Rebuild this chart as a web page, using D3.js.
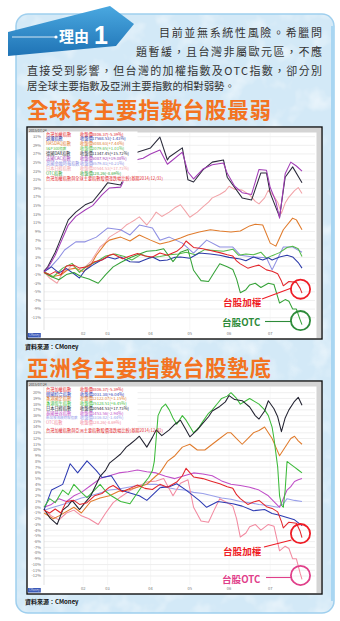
<!DOCTYPE html>
<html>
<head>
<meta charset="utf-8">
<title>台股最弱</title>
<script src="https://cdn.jsdelivr.net/npm/d3@7"></script>
<style>
  body { margin: 0; background: #fff; }
  svg { display: block; font-family: "Noto Sans CJK TC", "Noto Sans", sans-serif; }
  .tick-lbl { font-size: 4px; fill: #777; }
  .leg { font-size: 4.2px; }
</style>
</head>
<body>
<svg id="page" width="340" height="621"></svg>
<script>
// ---- data: [trading day index, % change since 2014/12/31] ----
var taiex = [[0,-0.5],[3,-1],[6,-0.3],[9,-1],[12,1],[16,1.2],[19,0.5],[23,0.8],[27,2],[31,2.4],[35,3.5],[37,3.8],[42,2.7],[46,3.3],[50,3.9],[54,3.3],[58,3.1],[62,4],[66,3.5],[71,4.4],[74,5.5],[76,6.8],[80,5.3],[85,5],[89,4.6],[94,4.1],[98,3.6],[101,3.3],[103,2.2],[105,1.5],[109,0.5],[112,0.9],[115,1.2],[119,0.1],[122,-0.2],[125,-0.8],[127,-2.5],[128,-3.6],[131,-2.6],[135,-2.8],[137,-4.2],[138,-5.3]];
var otc = [[0,-0.5],[4,-1.5],[8,-2.2],[12,-1],[16,-0.5],[20,-1.5],[24,-2],[29,-3],[33,-1],[37,0.8],[41,1.8],[46,2.9],[50,3.6],[55,4.4],[60,4.6],[64,5],[69,2],[73,4.2],[77,4.8],[80,0],[84,-2.4],[88,-2.6],[91,-0.5],[94,1.5],[98,0.8],[101,0.2],[103,-2],[105,-5.2],[108,-4.5],[110,-3.4],[113,-3],[116,-4],[120,-3],[123,-3.3],[126,-7.6],[129,-6.8],[131,-7.2],[133,-9],[135,-9],[137,-11.5],[138,-12.6]];
var nikkei = [[0,-0.3],[3,-1.8],[7,-3],[10,-0.5],[13,0.3],[15,1.2],[19,-0.4],[22,0.8],[25,2],[28,4],[30,5.4],[33,6.5],[35,7.7],[38,8.5],[41,9.3],[44,10.5],[46,11],[49,11.8],[51,12.4],[55,10.5],[58,12.2],[60,13.5],[63,12.5],[67,13.5],[70,14.5],[73,15.2],[76,13.5],[78,12.3],[82,13.5],[85,14.7],[88,15.8],[90,16.8],[94,17.6],[97,18.4],[99,19.5],[102,18.8],[106,18.6],[110,17.5],[113,16],[115,15.4],[118,16.8],[120,18.6],[123,17.2],[125,15.8],[127,13.2],[129,15.6],[131,17],[134,18.5],[136,19.2],[138,17.8]];
var dow = [[0,-0.3],[4,0.8],[8,-0.6],[12,0.4],[16,-0.8],[19,-1.8],[22,0],[26,1.2],[30,2.2],[34,3.1],[38,2.6],[41,3.1],[46,2],[51,1.9],[55,2.6],[58,3.1],[62,2.2],[66,2.4],[70,3],[73,3.1],[78,2.8],[83,4],[89,3.8],[94,3.5],[99,3],[105,2.6],[108,2.2],[112,3.1],[117,2.4],[120,2.9],[122,2.4],[126,3.1],[130,3.5],[133,3.1],[136,1.8],[138,0.5]];
var nasdaq = [[0,-0.4],[4,-1.5],[9,-1.1],[13,0.2],[17,0.5],[21,-0.3],[25,1.2],[28,3.5],[33,6.3],[35,7],[41,7.7],[46,6.8],[51,8.2],[57,7],[62,6.1],[67,6.6],[73,7.5],[77,8.2],[83,8.9],[89,9.4],[94,9.1],[100,8.9],[105,9.1],[110,10.3],[113,10.7],[117,10.5],[121,6.3],[124,5.6],[128,9.4],[133,12.1],[135,11.7],[138,9.4]];
var sp500 = [[0,-0.3],[5,-1.5],[10,0.5],[15,1.6],[19,-0.5],[23,1],[28,2],[33,3.3],[38,3.8],[43,3.2],[47,2.4],[52,3.7],[57,2.9],[62,3.2],[67,3.6],[72,3.8],[76,4.2],[81,3.6],[86,4.8],[91,4.6],[96,4.4],[101,4.9],[104,3.5],[108,3.8],[112,3.6],[116,4.2],[119,2.8],[122,3.4],[126,4.1],[130,5.3],[133,5.6],[136,5],[138,3.2]];
var dax = [[0,-0.2],[2,0.8],[6,4.2],[8,6.3],[13,11.7],[17,13.5],[22,15.2],[26,15.9],[31,18.6],[34,20.3],[41,19.8],[49,27.3],[57,28.4],[62,30.9],[66,25.6],[67,26.3],[74,28.4],[77,21],[80,20.5],[85,23.3],[90,25.1],[96,25.6],[98,21.6],[106,16.8],[111,16.3],[116,22.6],[119,22.6],[121,17.9],[126,12.4],[129,21.6],[133,24],[138,20.3]];
var cac = [[0,-0.3],[2,0.5],[6,3.5],[8,5.5],[13,10.5],[17,12.5],[22,14],[26,15],[31,17.5],[35,19.1],[41,19.3],[45,23],[49,25.6],[53,26],[57,27],[62,27.9],[66,24.6],[68,25.3],[74,27.4],[77,22.8],[80,21.2],[85,23.5],[90,24.5],[96,24.9],[98,22.5],[102,19.5],[106,18],[111,17.6],[115,23.4],[119,23.2],[121,19.2],[124,16],[126,12.1],[129,22.4],[132,25.1],[135,24.2],[138,23]];
var ftse = [[0,-0.4],[3,0.5],[8,2.9],[11,4.7],[17,6.6],[22,6.6],[28,7.7],[34,9.8],[41,9.4],[46,8.2],[51,10.5],[58,9.8],[62,7],[67,7.7],[74,6.3],[80,4],[87,7],[94,5.4],[101,5.4],[105,3.5],[112,3.1],[119,2.9],[122,0.1],[128,5.4],[133,5.4],[138,4.2]];
// Asia
var korea = [[0,-0.5],[4,3],[10,4],[14,7.6],[18,6],[23,8.1],[28,6.4],[31,5.2],[36,5.5],[41,3],[46,2.5],[51,2],[55,1.2],[62,3.4],[67,3.6],[71,4.1],[76,3],[83,1.2],[87,0],[93,1],[101,0.6],[106,0.2],[112,-0.6],[118,-0.4],[122,-1.1],[126,-1.4],[130,-1.8],[134,-2.2],[138,-3.2]];
var hshares = [[0,-1],[5,-2],[8,-1.5],[16,0],[20,-1],[25,1],[30,1.6],[35,2],[40,2.8],[45,3],[50,3.5],[55,4],[60,5.5],[62,6],[66,8],[70,9],[74,10.5],[78,11],[82,10],[86,10],[90,11],[94,12],[98,13],[100,13],[103,12],[106,11],[109,12],[112,13],[115,13.4],[118,14],[120,13],[122,12],[124,10.5],[126,9],[128,10],[130,11],[132,12],[134,12.4],[136,11.6],[138,11]];
var hangseng = [[0,0],[3,1.5],[6,0.8],[10,3],[13,2.2],[16,4],[20,2.6],[23,1.7],[27,3],[30,4],[33,2.8],[36,2],[41,1],[46,0.6],[51,3],[54,4.4],[56,5.2],[58,6.4],[59,8],[61,16],[63,17.4],[65,18],[67,17],[69,15.6],[71,14.5],[74,16],[76,15.2],[80,13],[83,14],[85,15],[88,16.4],[90,17],[93,18.2],[95,19],[98,19.4],[100,20],[103,19],[105,18],[108,18.6],[110,19],[113,18.4],[115,18],[118,17],[120,16],[122,14],[123,12],[125,7],[126,2],[127,0.4],[128,0],[129,3],[130,8],[132,7.5],[134,7],[136,6.5],[138,6]];
var thai = [[0,0],[4,0.5],[8,1.5],[12,1],[16,2],[20,2.6],[25,3.8],[30,5],[35,5.5],[40,6],[45,6.2],[50,6.5],[55,6.2],[60,6],[65,5.4],[70,5],[75,5.5],[80,6],[85,5.8],[90,5.5],[95,4.6],[100,4],[105,3.8],[110,3.5],[115,3],[120,2],[123,1],[126,0],[128,1.5],[130,3],[132,3.6],[134,4.5],[136,4.8],[138,5]];
var singapore = [[0,-0.5],[5,0],[10,0.5],[15,1],[20,1.6],[25,2],[30,2.5],[35,3],[40,3.2],[45,3.5],[50,3.8],[55,4],[60,4],[65,3.5],[70,3.2],[75,3],[80,2.6],[85,2.4],[90,2],[95,1.6],[100,1.4],[105,1],[110,0.8],[115,0.5],[120,0.3],[125,0],[128,0.6],[130,1.5],[134,1.2],[138,1]];

var monthStarts = [21, 34, 57, 78, 99, 121];
var monthLabels = ["02", "03", "04", "05", "06", "07"];
var ticks1 = [31, 29, 27, 25, 23, 21, 19, 17, 15, 13, 11, 9, 7, 5, 3, 1, -1, -3, -5, -7, -9, -11];
var ticks2 = [20, 19, 18, 17, 16, 15, 14, 13, 12, 11, 10, 9, 8, 7, 6, 5, 4, 3, 2, 1, 0, -1, -2, -3, -4, -5, -6, -7, -8, -9, -10, -11, -12];

var names1 = ["台灣加權指數", "道瓊指數", "NASDAQ指數", "S&P 500指數", "德國DAX指數", "法國CAC指數", "英國金融時報指數", "日本日經指數", "OTC指數"];
var closes1 = ["8806.37(-5.39%)", "17568.53(-1.43%)", "5088.63(+7.44%)", "2079.65(+1.01%)", "11347.45(+15.72%)", "5087.92(+19.08%)", "6579.81(+0.21%)", "20544.53(+17.73%)", "128.26(-8.69%)"];
var names2 = ["台灣加權指數", "韓國綜合指數", "香港國企指數", "香港恆生指數", "日本日經指數", "泰國曼谷指數", "新加坡海峽時報指數", "OTC指數"];
var closes2 = ["8806.37(-5.39%)", "2031.38(+6.04%)", "12122.07(+1.15%)", "25128.51(+6.45%)", "20544.53(+17.73%)", "1453.56(-2.94%)", "3316.82(-1.44%)", "128.26(-8.69%)"];
var footer1 = "台灣加權指數與全球主要指數股價漲跌幅比較(基期2014/12/31)";
var footer2 = "台灣加權指數與亞洲主要指數股價漲跌幅比較(基期2014/12/31)";

var series1 = [taiex, dow, nasdaq, sp500, dax, cac, ftse, nikkei, otc];
var colors1 = ["#e3262c", "#2c3aa8", "#e07b2c", "#56bb4a", "#2a2a3a", "#a23cb6", "#8e8fe2", "#f2a3a8", "#35a238"];
var series2 = [taiex, korea, hshares, hangseng, nikkei, thai, singapore, otc];
var colors2 = ["#e3262c", "#2d3bb2", "#e07b2c", "#3cba3a", "#222230", "#c04fc8", "#9aa0ea", "#f28aa0"];

var svg = d3.select("#page");
var defs = svg.append("defs");

// ---- background panel ----
var tex = defs.append("filter").attr("id", "tex").attr("x", 0).attr("y", 0).attr("width", 1).attr("height", 1);
tex.append("feTurbulence").attr("type", "fractalNoise").attr("baseFrequency", 0.045).attr("numOctaves", 3).attr("seed", 4);
tex.append("feColorMatrix").attr("type", "matrix")
  .attr("values", "0 0 0 0 1  0 0 0 0 1  0 0 0 0 1  1.6 0 0 0 -0.75");
defs.append("clipPath").attr("id", "panelClip").append("rect")
  .attr("x", 16).attr("y", 14).attr("width", 318).attr("height", 599).attr("rx", 12);

svg.append("rect").attr("x", 16).attr("y", 14).attr("width", 318).attr("height", 599)
  .attr("rx", 12).attr("fill", "#d3e9f7");
svg.append("rect").attr("x", 16).attr("y", 14).attr("width", 318).attr("height", 599)
  .attr("clip-path", "url(#panelClip)").attr("filter", "url(#tex)").attr("opacity", 0.75);
svg.append("rect").attr("x", 16).attr("y", 14).attr("width", 318).attr("height", 599)
  .attr("rx", 12).attr("fill", "none").attr("stroke", "#9fcfee").attr("stroke-width", 1.5);
svg.append("rect").attr("x", 331).attr("y", 26).attr("width", 3).attr("height", 575).attr("fill", "#a9d6f2");

// banner "理由1"
var grad = defs.append("linearGradient").attr("id", "bn").attr("x1", 0).attr("y1", 0).attr("x2", 0).attr("y2", 1);
grad.append("stop").attr("offset", "0%").attr("stop-color", "#4aa8e0");
grad.append("stop").attr("offset", "100%").attr("stop-color", "#1f73b5");
svg.append("polygon").attr("points", "8,32 110,6 134,24 116,46 8,56").attr("fill", "url(#bn)");
svg.append("line").attr("x1", 12).attr("y1", 37).attr("x2", 55).attr("y2", 37).attr("stroke", "#fff").attr("stroke-width", 0.8);
svg.append("circle").attr("cx", 56).attr("cy", 37).attr("r", 1.6).attr("fill", "#fff");
svg.append("text").attr("x", 59).attr("y", 42).text("理由").attr("fill", "#fff")
  .attr("font-size", 15).attr("font-weight", "bold");
svg.append("text").attr("x", 94).attr("y", 44).text("1").attr("fill", "#fff")
  .attr("font-size", 25).attr("font-weight", "bold").attr("font-family", "Arial, Liberation Sans, sans-serif");

// paragraph
var para = svg.append("g").attr("fill", "#333").attr("font-size", 11);
para.append("text").attr("x", 159).attr("y", 37).attr("textLength", 163).attr("lengthAdjust", "spacing").text("目前並無系統性風險。希臘問");
para.append("text").attr("x", 136).attr("y", 56).attr("textLength", 186).attr("lengthAdjust", "spacing").text("題暫緩，且台灣非屬歐元區，不應");
para.append("text").attr("x", 27).attr("y", 74.5).attr("textLength", 295).attr("lengthAdjust", "spacing").text("直接受到影響，但台灣的加權指數及OTC指數，卻分別");
para.append("text").attr("x", 27).attr("y", 90).attr("font-size", 10.4).text("居全球主要指數及亞洲主要指數的相對弱勢。");

// titles
svg.append("text").attr("x", 27).attr("y", 118.3).text("全球各主要指數台股最弱")
  .attr("font-size", 21.5).attr("textLength", 244).attr("lengthAdjust", "spacing")
  .attr("font-weight", "bold").attr("fill", "#f37321");
svg.append("text").attr("x", 27).attr("y", 376).text("亞洲各主要指數台股墊底")
  .attr("font-size", 21.5).attr("textLength", 244).attr("lengthAdjust", "spacing")
  .attr("font-weight", "bold").attr("fill", "#f37321");

// sources
svg.append("text").attr("x", 25).attr("y", 349).text("資料來源：CMoney").attr("font-size", 6).attr("font-weight", "bold").attr("fill", "#111");
svg.append("text").attr("x", 25).attr("y", 604).text("資料來源：CMoney").attr("font-size", 6).attr("font-weight", "bold").attr("fill", "#111");

var x = d3.scaleLinear().domain([0, 138]).range([44, 302]);

function drawChart(cfg) {
  var g = svg.append("g");
  var b = cfg.box;
  g.append("rect").attr("x", b.x).attr("y", b.y).attr("width", b.w).attr("height", b.h)
    .attr("fill", "#fff").attr("stroke", "#111").attr("stroke-width", 1.4);
  g.append("rect").attr("x", b.x + 1).attr("y", b.y + 1).attr("width", b.w - 2).attr("height", 4.5).attr("fill", "#d4d4d4");
  g.append("rect").attr("x", b.x + b.w - 5.5).attr("y", b.y + 1).attr("width", 4.5).attr("height", b.h - 2).attr("fill", "#d4d4d4");

  var y = d3.scaleLinear().domain(cfg.domain).range(cfg.range);

  // grid + labels
  g.selectAll(".gl").data(cfg.ticks).enter().append("line")
    .attr("x1", 44).attr("x2", 315).attr("y1", function(d){ return y(d); }).attr("y2", function(d){ return y(d); })
    .attr("stroke", "#e4e4e4").attr("stroke-width", 0.6);
  g.selectAll(".tl").data(cfg.ticks).enter().append("text").attr("class", "tick-lbl")
    .attr("x", 41).attr("y", function(d){ return y(d) + 1.4; }).attr("text-anchor", "end")
    .text(function(d){ return d + "%"; });
  g.append("line").attr("x1", 44).attr("x2", 44).attr("y1", b.y + 6).attr("y2", b.y + b.h - 9).attr("stroke", "#cfcfcf").attr("stroke-width", 0.6);
  g.selectAll(".ml").data(monthStarts).enter().append("line")
    .attr("x1", function(d){ return x(d); }).attr("x2", function(d){ return x(d); })
    .attr("y1", b.y + 6).attr("y2", b.y + b.h - 9).attr("stroke", "#efefef").attr("stroke-width", 0.5);
  g.selectAll(".xl").data(monthStarts).enter().append("text").attr("class", "tick-lbl")
    .attr("x", function(d){ return x(d); }).attr("y", b.y + b.h - 4.5).attr("text-anchor", "middle")
    .text(function(d, i){ return monthLabels[i]; });

  // date + icon
  g.append("text").attr("x", b.x + 2).attr("y", b.y + 4.6).text("2015/07/24").attr("font-size", 3.4).attr("fill", "#444");
  g.append("rect").attr("x", b.x + 0.8).attr("y", b.y + b.h - 6).attr("width", 13).attr("height", 4.5).attr("fill", "#3a5ab8");
  g.append("text").attr("x", b.x + 2).attr("y", b.y + b.h - 2.6).text("CMoney").attr("font-size", 2.8).attr("fill", "#dde");

  // lines
  var line = d3.line().x(function(d){ return x(d[0]); }).y(function(d){ return y(d[1]); });
  cfg.drawOrder.forEach(function(i) {
    g.append("path").datum(cfg.series[i]).attr("d", line).attr("fill", "none")
      .attr("stroke", cfg.colors[i]).attr("stroke-width", 1.05).attr("stroke-linejoin", "round");
  });

  // legend
  var lg = g.append("g").attr("class", "leg");
  lg.append("rect").attr("x", 44.5).attr("y", cfg.legTop - 4).attr("width", cfg.legW).attr("height", cfg.legH).attr("fill", "#fff");
  cfg.names.forEach(function(n, i) {
    var yy = cfg.legTop + i * cfg.legStep;
    lg.append("text").attr("x", 46).attr("y", yy).attr("fill", cfg.colors[i])
      .attr("font-size", n.length > 8 ? 3.5 : null).text(n);
    lg.append("text").attr("x", 80).attr("y", yy).attr("fill", cfg.colors[i]).text("收盤價");
    lg.append("text").attr("x", 92).attr("y", yy).attr("fill", cfg.colors[i]).text(cfg.closes[i]);
  });
  lg.append("text").attr("x", 46).attr("y", cfg.footY).attr("fill", "#e3262c").text(cfg.footer);

  // callouts
  cfg.callouts.forEach(function(c) {
    var s = cfg.series[c.idx];
    var last = s[s.length - 1];
    var cx = x(last[0]) - 1.5, cy = y(last[1]) - 4;
    g.append("circle").attr("cx", cx).attr("cy", cy).attr("r", 9.6).attr("fill", "none")
      .attr("stroke", c.color).attr("stroke-width", 1.8);
    g.append("line").attr("x1", c.lx).attr("y1", c.ly).attr("x2", cx - 9).attr("y2", c.ly2)
      .attr("stroke", c.color).attr("stroke-width", 1.1);
    g.append("text").attr("x", c.tx).attr("y", c.ty).text(c.text).attr("fill", c.color)
      .attr("font-size", 9.6).attr("font-weight", "bold")
      .attr("stroke", "#fff").attr("stroke-width", 1.6).attr("paint-order", "stroke");
  });
}

drawChart({
  box: {x: 27, y: 127, w: 295, h: 212},
  domain: [-11, 31], range: [317.7, 136.7], ticks: ticks1,
  series: series1, colors: colors1, names: names1, closes: closes1, footer: footer1,
  drawOrder: [7, 6, 2, 3, 1, 8, 0, 4, 5],
  legTop: 135.5, legStep: 4.9, legW: 93, legH: 50, footY: 180,
  callouts: [
    {idx: 0, color: "#ee1c25", text: "台股加權", tx: 223, ty: 306, lx: 262, ly: 299, ly2: 288},
    {idx: 8, color: "#2e8b3a", text: "台股OTC", tx: 222, ty: 325.5, lx: 265, ly: 321.5, ly2: 321.5}
  ]
});

drawChart({
  box: {x: 27, y: 381, w: 295, h: 213},
  domain: [-12, 20], range: [576, 392.7], ticks: ticks2,
  series: series2, colors: colors2, names: names2, closes: closes2, footer: footer2,
  drawOrder: [6, 7, 5, 2, 1, 3, 4, 0],
  legTop: 391, legStep: 4.7, legW: 93, legH: 44, footY: 432,
  callouts: [
    {idx: 0, color: "#ee1c25", text: "台股加權", tx: 223, ty: 554.5, lx: 264, ly: 547, ly2: 540},
    {idx: 7, color: "#e0408a", text: "台股OTC", tx: 222, ty: 583, lx: 266, ly: 577.5, ly2: 577.5}
  ]
});
</script>
</body>
</html>
